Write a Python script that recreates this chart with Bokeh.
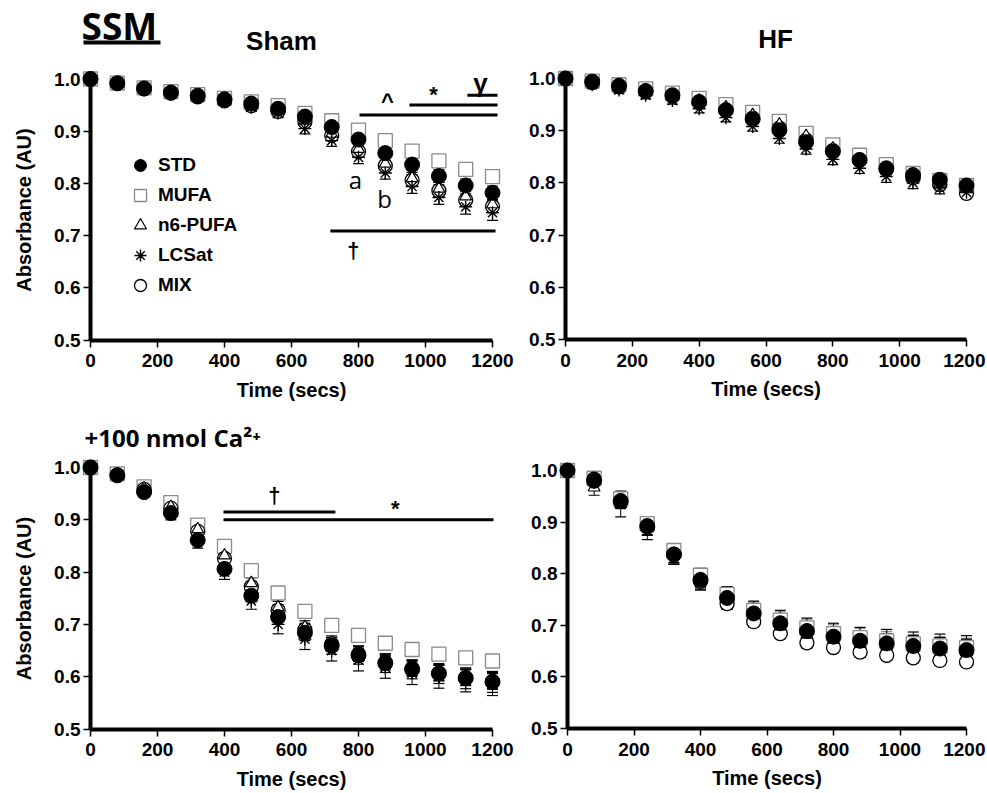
from bokeh.plotting import figure
from bokeh.layouts import column, row
from bokeh.models import (ColumnDataSource, FixedTicker, NumeralTickFormatter, Label,
                          Legend, LegendItem, Range1d)
from bokeh.embed import file_html
from bokeh.resources import INLINE

# ---------------- data ----------------
time_s = [0, 80, 160, 240, 320, 400, 480, 560, 640, 720, 800, 880, 960, 1040, 1120, 1200]
groups = ["STD", "MUFA", "n6-PUFA", "LCSat", "MIX"]

# Sham (no Ca)
sham_std = [1.0, 0.992, 0.982, 0.974, 0.968, 0.961, 0.953, 0.943, 0.928, 0.908, 0.884, 0.858, 0.836, 0.814, 0.796, 0.782]
sham_mufa = [1.0, 0.992, 0.983, 0.976, 0.970, 0.963, 0.956, 0.949, 0.934, 0.920, 0.902, 0.882, 0.862, 0.843, 0.827, 0.813]
sham_n6 = [1.0, 0.991, 0.981, 0.973, 0.967, 0.959, 0.950, 0.940, 0.920, 0.895, 0.866, 0.838, 0.810, 0.790, 0.775, 0.760]
sham_lcsat = [1.0, 0.990, 0.980, 0.972, 0.965, 0.957, 0.946, 0.935, 0.905, 0.882, 0.850, 0.820, 0.794, 0.773, 0.755, 0.744]
sham_mix = [1.0, 0.991, 0.981, 0.973, 0.966, 0.958, 0.949, 0.938, 0.918, 0.892, 0.861, 0.834, 0.806, 0.786, 0.768, 0.756]
sham_std_err = [0, .003, .004, .005, .005, .006, .006, .007, .008, .009, .010, .010, .011, .012, .012, .013]
sham_mufa_err = [0, .003, .003, .004, .004, .005, .005, .006, .006, .007, .007, .008, .008, .009, .009, .010]
sham_n6_err = [0, .003, .004, .005, .005, .006, .006, .007, .008, .009, .010, .010, .011, .012, .012, .013]
sham_lcsat_err = [0, .004, .005, .006, .006, .007, .008, .009, .010, .011, .012, .012, .013, .013, .014, .015]
sham_mix_err = [0, .003, .004, .005, .005, .006, .006, .007, .008, .009, .010, .010, .011, .011, .012, .012]

# HF (no Ca)
hf_std = [1.0, 0.994, 0.986, 0.976, 0.968, 0.955, 0.939, 0.922, 0.901, 0.878, 0.860, 0.844, 0.828, 0.815, 0.806, 0.795]
hf_mufa = [1.0, 0.995, 0.988, 0.980, 0.972, 0.962, 0.950, 0.935, 0.918, 0.895, 0.873, 0.853, 0.835, 0.818, 0.805, 0.795]
hf_n6 = [1.0, 0.993, 0.986, 0.977, 0.968, 0.958, 0.945, 0.930, 0.912, 0.890, 0.866, 0.845, 0.826, 0.810, 0.798, 0.788]
hf_lcsat = [1.0, 0.988, 0.978, 0.968, 0.958, 0.942, 0.925, 0.908, 0.885, 0.865, 0.845, 0.828, 0.812, 0.800, 0.790, 0.782]
hf_mix = [1.0, 0.992, 0.984, 0.975, 0.966, 0.954, 0.940, 0.924, 0.905, 0.882, 0.862, 0.843, 0.826, 0.810, 0.797, 0.780]
hf_std_err = [0, .004, .005, .005, .006, .006, .007, .007, .008, .008, .009, .009, .010, .010, .010, .010]
hf_mufa_err = [0, .004, .004, .005, .005, .006, .006, .007, .007, .008, .008, .009, .009, .010, .010, .010]
hf_n6_err = [0, .004, .005, .005, .006, .006, .007, .007, .008, .008, .009, .009, .010, .010, .010, .010]
hf_lcsat_err = [0, .005, .006, .007, .007, .008, .008, .009, .009, .010, .010, .010, .011, .011, .011, .011]
hf_mix_err = [0, .004, .005, .005, .006, .006, .007, .007, .008, .008, .009, .009, .010, .010, .010, .010]

# Sham + 100 nmol Ca2+
ca_sham_std = [1.0, 0.985, 0.953, 0.913, 0.861, 0.806, 0.755, 0.714, 0.684, 0.659, 0.641, 0.626, 0.614, 0.606, 0.597, 0.590]
ca_sham_mufa = [1.0, 0.988, 0.963, 0.933, 0.890, 0.849, 0.803, 0.760, 0.725, 0.698, 0.679, 0.664, 0.652, 0.643, 0.636, 0.630]
ca_sham_n6 = [1.0, 0.987, 0.960, 0.925, 0.882, 0.832, 0.779, 0.733, 0.695, 0.665, 0.645, 0.629, 0.617, 0.608, 0.599, 0.592]
ca_sham_lcsat = [1.0, 0.984, 0.952, 0.910, 0.858, 0.800, 0.745, 0.700, 0.672, 0.650, 0.632, 0.618, 0.607, 0.600, 0.593, 0.586]
ca_sham_mix = [1.0, 0.986, 0.958, 0.922, 0.878, 0.826, 0.772, 0.727, 0.690, 0.662, 0.643, 0.627, 0.616, 0.607, 0.598, 0.591]
ca_sham_std_err = [0, .005, .006, .007, .008, .010, .012, .014, .015, .016, .017, .018, .018, .019, .020, .020]
ca_sham_mufa_err = [0, .004, .005, .006, .007, .008, .009, .010, .010, .011, .011, .012, .012, .012, .012, .012]
ca_sham_n6_err = [0, .005, .006, .007, .008, .009, .010, .011, .012, .013, .014, .014, .015, .015, .015, .015]
ca_sham_lcsat_err = [0, .006, .008, .010, .012, .014, .016, .018, .020, .020, .021, .021, .022, .022, .022, .022]
ca_sham_mix_err = [0, .005, .006, .007, .008, .009, .010, .011, .012, .013, .014, .014, .015, .015, .015, .015]

# HF + 100 nmol Ca2+
ca_hf_std = [1.0, 0.980, 0.941, 0.891, 0.837, 0.788, 0.753, 0.723, 0.704, 0.689, 0.678, 0.670, 0.665, 0.660, 0.655, 0.652]
ca_hf_mufa = [1.0, 0.985, 0.945, 0.897, 0.845, 0.797, 0.760, 0.729, 0.710, 0.695, 0.684, 0.676, 0.670, 0.664, 0.660, 0.657]
ca_hf_n6 = [1.0, 0.967, 0.935, 0.888, 0.838, 0.790, 0.752, 0.720, 0.698, 0.682, 0.672, 0.664, 0.660, 0.656, 0.652, 0.648]
ca_hf_lcsat = [1.0, 0.980, 0.940, 0.890, 0.837, 0.790, 0.752, 0.722, 0.702, 0.687, 0.676, 0.668, 0.663, 0.658, 0.654, 0.651]
ca_hf_mix = [1.0, 0.983, 0.940, 0.893, 0.838, 0.785, 0.742, 0.707, 0.684, 0.666, 0.657, 0.648, 0.642, 0.637, 0.632, 0.629]
ca_hf_std_err = [0, .010, .015, .017, .018, .020, .022, .024, .025, .025, .026, .026, .027, .027, .028, .028]
ca_hf_mufa_err = [0, .008, .010, .012, .013, .014, .015, .016, .016, .017, .017, .018, .018, .018, .018, .018]
ca_hf_n6_err = [0, .015, .025, .022, .020, .020, .020, .021, .022, .022, .023, .023, .024, .024, .024, .024]
ca_hf_lcsat_err = [0, .008, .012, .014, .015, .016, .017, .018, .019, .020, .020, .021, .021, .022, .022, .022]
ca_hf_mix_err = [0, .006, .008, .010, .010, .010, .010, .010, .010, .010, .010, .010, .010, .010, .010, .010]

# significance bars and marks
sham_bar_x0 = [803, 952, 1125, 716]
sham_bar_x1 = [1215, 1215, 1215, 1209]
sham_bar_y = [0.931, 0.950, 0.969, 0.709]
sham_mark_text = ["^", "*", "γ", "†", "a", "b"]
sham_mark_x = [886, 1024, 1164, 785, 791, 878]
sham_mark_y = [0.957, 0.970, 0.993, 0.672, 0.807, 0.772]

ca_bar_x0 = [397, 397]
ca_bar_x1 = [731, 1203]
ca_bar_y = [0.915, 0.900]
ca_mark_text = ["†", "*"]
ca_mark_x = [549, 910]
ca_mark_y = [0.947, 0.922]

x_ticks = [0, 200, 400, 600, 800, 1000, 1200]
y_ticks = [0.5, 0.6, 0.7, 0.8, 0.9, 1.0]

# ---------------- styling ----------------
FONT = "Liberation Sans"
styles = {
    "STD": dict(marker="circle", size=15, fill_color="black", line_color="black", line_width=1),
    "MUFA": dict(marker="square", size=14, fill_color="white", line_color="#8a8a8a", line_width=1.3),
    "n6-PUFA": dict(marker="triangle", size=12, fill_color="white", line_color="black", line_width=1.2),
    "LCSat": dict(marker="asterisk", size=13, fill_color=None, line_color="black", line_width=1.4),
    "MIX": dict(marker="circle", size=14, fill_color="white", line_color="black", line_width=1.3),
}
err_colors = {"STD": "black", "MUFA": "#8a8a8a", "n6-PUFA": "black", "LCSat": "black", "MIX": "black"}
draw_order = ["MUFA", "MIX", "n6-PUFA", "LCSat", "STD"]

# figure geometry (pixels): the frame covers the whole figure, axes are drawn at x=0 / y=0.5
LEFT_W, RIGHT_W = 518, 467
TOP_H, BOT_H = 405, 387


class Geo:
    def __init__(self, w, h, x0px, x1px, y1px, y05px):
        self.w, self.h = w, h
        self.sx = (x1px - x0px) / 1200.0
        self.sy = (y05px - y1px) / 0.5
        self.x0px, self.y1px = x0px, y1px

    def x(self, px):
        return (px - self.x0px) / self.sx

    def y(self, py):
        return 1.0 - (py - self.y1px) / self.sy


def make_panel(g, vals, errs, ylabel):
    p = figure(frame_width=g.w, frame_height=g.h,
               x_range=Range1d(g.x(0), g.x(g.w)), y_range=Range1d(g.y(g.h), g.y(0)),
               output_backend="svg", toolbar_location=None, min_border=0)
    p.outline_line_color = None
    p.grid.visible = False

    p.xaxis.fixed_location = 0.5
    p.yaxis.fixed_location = 0
    p.xaxis.bounds = (0, 1200)
    p.yaxis.bounds = (0.5, 1.0)
    p.xaxis.ticker = FixedTicker(ticks=x_ticks)
    p.yaxis.ticker = FixedTicker(ticks=y_ticks)
    p.yaxis.formatter = NumeralTickFormatter(format="0.0")
    for ax in p.axis:
        ax.axis_line_width = 4
        ax.axis_line_color = "black"
        ax.major_tick_line_width = 1.5
        ax.major_tick_out = 7
        ax.major_tick_in = 0
        ax.minor_tick_out = 0
        ax.minor_tick_in = 0
        ax.major_label_text_font = FONT
        ax.major_label_text_font_style = "bold"
        ax.major_label_text_font_size = "19px"
        ax.major_label_text_color = "black"
        ax.axis_label_text_font = FONT
        ax.axis_label_text_font_style = "bold"
        ax.axis_label_text_font_size = "20px"
        ax.axis_label_text_color = "black"
    p.xaxis.major_label_standoff = 7
    p.yaxis.major_label_standoff = 3
    p.xaxis.axis_label = "Time (secs)"
    p.xaxis.axis_label_standoff = 8
    if ylabel:
        p.yaxis.axis_label = "Absorbance (AU)"
        p.yaxis.axis_label_standoff = 16

    for gname in draw_order:
        v, e = vals[gname], errs[gname]
        lo = [a - b for a, b in zip(v, e)]
        hi = [a + b for a, b in zip(v, e)]
        src = ColumnDataSource(dict(x=time_s, lo=lo, hi=hi))
        p.segment(x0="x", y0="lo", x1="x", y1="hi", source=src, line_color=err_colors[gname], line_width=1)
        p.scatter(x="x", y="lo", source=src, marker="dash", size=11, line_color=err_colors[gname], line_width=1.2)
        p.scatter(x="x", y="hi", source=src, marker="dash", size=11, line_color=err_colors[gname], line_width=1.2)

    renderers = {}
    for gname in draw_order:
        src = ColumnDataSource(dict(x=time_s, y=vals[gname]))
        renderers[gname] = p.scatter(x="x", y="y", source=src, **styles[gname])
    return p, renderers


def add_marks(p, bx0, bx1, by, texts, tx, ty, sizes, weights):
    src = ColumnDataSource(dict(x0=bx0, x1=bx1, y=by))
    p.segment(x0="x0", y0="y", x1="x1", y1="y", source=src, line_color="black", line_width=3)
    for t, x, y, s, w in zip(texts, tx, ty, sizes, weights):
        font = "Open Sans" if t in ("a", "b") else FONT
        p.add_layout(Label(x=x, y=y, text=t, text_align="center", text_baseline="middle",
                           text_font=font, text_font_size=s, text_font_style=w, text_color="black"))


def add_text(p, g, px, py, text, size, font, align="center"):
    p.add_layout(Label(x=g.x(px), y=g.y(py), text=text, text_align=align, text_baseline="middle",
                       text_font=font, text_font_size=size, text_font_style="bold", text_color="black"))


g1 = Geo(LEFT_W, TOP_H, 90, 492, 78.5, 339.5)
g2 = Geo(RIGHT_W, TOP_H, 47, 448, 78, 339)
g3 = Geo(LEFT_W, BOT_H, 90, 492, 62, 323.5)
g4 = Geo(RIGHT_W, BOT_H, 49, 448, 65, 323)

p1, r1 = make_panel(g1, dict(zip(groups, [sham_std, sham_mufa, sham_n6, sham_lcsat, sham_mix])),
                    dict(zip(groups, [sham_std_err, sham_mufa_err, sham_n6_err, sham_lcsat_err, sham_mix_err])), True)
p2, r2 = make_panel(g2, dict(zip(groups, [hf_std, hf_mufa, hf_n6, hf_lcsat, hf_mix])),
                    dict(zip(groups, [hf_std_err, hf_mufa_err, hf_n6_err, hf_lcsat_err, hf_mix_err])), False)
p3, r3 = make_panel(g3, dict(zip(groups, [ca_sham_std, ca_sham_mufa, ca_sham_n6, ca_sham_lcsat, ca_sham_mix])),
                    dict(zip(groups, [ca_sham_std_err, ca_sham_mufa_err, ca_sham_n6_err, ca_sham_lcsat_err, ca_sham_mix_err])), True)
p4, r4 = make_panel(g4, dict(zip(groups, [ca_hf_std, ca_hf_mufa, ca_hf_n6, ca_hf_lcsat, ca_hf_mix])),
                    dict(zip(groups, [ca_hf_std_err, ca_hf_mufa_err, ca_hf_n6_err, ca_hf_lcsat_err, ca_hf_mix_err])), False)

add_marks(p1, sham_bar_x0, sham_bar_x1, sham_bar_y, sham_mark_text, sham_mark_x, sham_mark_y,
          ["22px", "22px", "26px", "22px", "24px", "24px"], ["bold", "bold", "bold", "bold", "normal", "normal"])
add_marks(p3, ca_bar_x0, ca_bar_x1, ca_bar_y, ca_mark_text, ca_mark_x, ca_mark_y,
          ["22px", "22px"], ["bold", "bold"])

# legend
legend = Legend(items=[LegendItem(label=gname, renderers=[r1[gname]]) for gname in groups],
                location=(125, 105), orientation="vertical",
                glyph_width=30, glyph_height=30, label_height=30, spacing=0,
                padding=0, margin=0, label_standoff=3,
                label_text_font=FONT, label_text_font_style="bold", label_text_font_size="19px",
                label_text_color="black",
                background_fill_alpha=0, border_line_color=None)
p1.add_layout(legend, "center")

# titles
add_text(p1, g1, 81, 25, "SSM", "37px", "Open Sans", align="left")
p1.segment(x0=[g1.x(83)], y0=[g1.y(42)], x1=[g1.x(160)], y1=[g1.y(42)], line_color="black", line_width=4)
add_text(p1, g1, 281, 40, "Sham", "26px", FONT)
add_text(p2, g2, 257, 38, "HF", "26px", FONT)
add_text(p3, g3, 84, 32, "+100 nmol Ca²⁺", "24px", "Open Sans", align="left")

layout = column(row(p1, p2), row(p3, p4))

with open("out.html", "w") as f:
    f.write(file_html(layout, INLINE))
